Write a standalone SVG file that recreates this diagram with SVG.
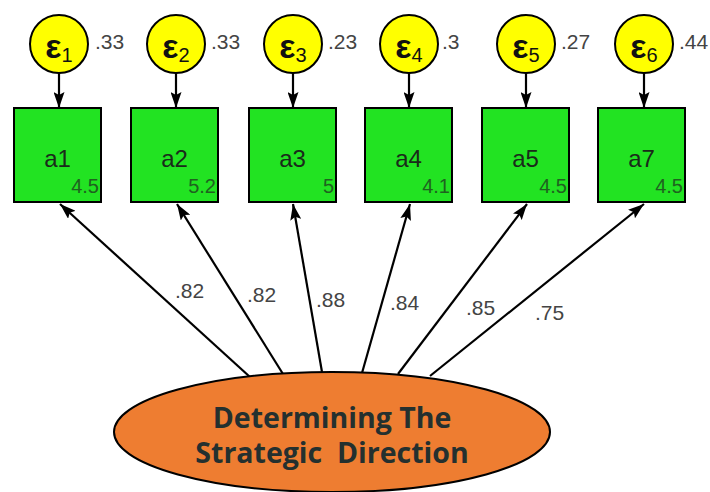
<svg xmlns="http://www.w3.org/2000/svg" width="710" height="492" viewBox="0 0 710 492">
  <defs>
    <marker id="arrow" viewBox="0 0 16 11" refX="16" refY="5.5" markerWidth="16" markerHeight="11" markerUnits="userSpaceOnUse" orient="auto">
      <path d="M0,0 L16,5.5 L0,11 L3,5.5 z" fill="#000"/>
    </marker>
    <style>
      .err circle { fill: #ffff00; stroke: #000; stroke-width: 2; }
      .eps { font-family: "Liberation Sans", Arial, sans-serif; font-weight: bold; font-size: 34px; fill: #111; text-anchor: middle; }
      .eps tspan { font-weight: normal; font-size: 20px; }
      .var { font-family: "Liberation Sans", Arial, sans-serif; font-size: 21px; fill: #444; }
      .obs rect { fill: #22e322; stroke: #000; stroke-width: 2; }
      .name { font-family: "Liberation Sans", Arial, sans-serif; font-size: 24px; fill: #1a2a1a; text-anchor: middle; }
      .mean { font-family: "Liberation Sans", Arial, sans-serif; font-size: 20px; fill: #1f621f; text-anchor: end; }
      .edge { stroke: #000; stroke-width: 2.2; fill: none; marker-end: url(#arrow); }
      .load { font-family: "Liberation Sans", Arial, sans-serif; font-size: 21px; fill: #444; }
      .latent ellipse { fill: #ee7d31; stroke: #000; stroke-width: 2; }
      .lname { font-family: "Open Sans", "Noto Sans", sans-serif; font-weight: bold; font-size: 28.5px; fill: #24302f; text-anchor: middle; }
    </style>
  </defs>

  <rect width="710" height="492" fill="#fff"/>

  <!-- connectors -->
  <g id="connectors">
    <!-- error terms to indicators -->
    <line class="edge" x1="59" y1="73" x2="59" y2="108"/>
    <line class="edge" x1="176" y1="73" x2="176" y2="108"/>
    <line class="edge" x1="293" y1="73" x2="293" y2="108"/>
    <line class="edge" x1="409" y1="73" x2="409" y2="108"/>
    <line class="edge" x1="526" y1="73" x2="526" y2="108"/>
    <line class="edge" x1="644" y1="73" x2="644" y2="108"/>
    <!-- factor loadings -->
    <line class="edge" x1="250" y1="377" x2="60" y2="204"/>
    <line class="edge" x1="283" y1="374" x2="177" y2="204"/>
    <line class="edge" x1="322" y1="372" x2="293" y2="204"/>
    <line class="edge" x1="362" y1="373" x2="410" y2="204"/>
    <line class="edge" x1="398" y1="374" x2="527" y2="204"/>
    <line class="edge" x1="430" y1="376" x2="644" y2="204"/>
    <text class="load" x="175" y="298">.82</text>
    <text class="load" x="247" y="302">.82</text>
    <text class="load" x="316" y="307">.88</text>
    <text class="load" x="390" y="310">.84</text>
    <text class="load" x="466" y="315">.85</text>
    <text class="load" x="535" y="320">.75</text>
  </g>

  <!-- error terms -->
  <g id="e1" class="err"><circle cx="59" cy="44" r="29"/><text class="eps" x="59" y="58">ε<tspan dy="4">1</tspan></text><text class="var" x="95" y="49">.33</text></g>
  <g id="e2" class="err"><circle cx="176" cy="44" r="29"/><text class="eps" x="176" y="58">ε<tspan dy="4">2</tspan></text><text class="var" x="211" y="49">.33</text></g>
  <g id="e3" class="err"><circle cx="293" cy="44" r="29"/><text class="eps" x="293" y="58">ε<tspan dy="4">3</tspan></text><text class="var" x="328" y="49">.23</text></g>
  <g id="e4" class="err"><circle cx="409" cy="44" r="29"/><text class="eps" x="409" y="58">ε<tspan dy="4">4</tspan></text><text class="var" x="442" y="49">.3</text></g>
  <g id="e5" class="err"><circle cx="526" cy="44" r="29"/><text class="eps" x="526" y="58">ε<tspan dy="4">5</tspan></text><text class="var" x="561" y="49">.27</text></g>
  <g id="e6" class="err"><circle cx="644" cy="44" r="29"/><text class="eps" x="644" y="58">ε<tspan dy="4">6</tspan></text><text class="var" x="679" y="49">.44</text></g>

  <!-- observed indicators -->
  <g id="a1" class="obs"><rect x="14" y="108" width="87" height="94"/><text class="name" x="57.5" y="167">a1</text><text class="mean" x="99" y="193">4.5</text></g>
  <g id="a2" class="obs"><rect x="131" y="108" width="87" height="94"/><text class="name" x="174.5" y="167">a2</text><text class="mean" x="216" y="193">5.2</text></g>
  <g id="a3" class="obs"><rect x="249" y="108" width="87" height="94"/><text class="name" x="292.5" y="167">a3</text><text class="mean" x="334" y="193">5</text></g>
  <g id="a4" class="obs"><rect x="365" y="108" width="87" height="94"/><text class="name" x="408.5" y="167">a4</text><text class="mean" x="450" y="193">4.1</text></g>
  <g id="a5" class="obs"><rect x="482" y="108" width="87" height="94"/><text class="name" x="525.5" y="167">a5</text><text class="mean" x="567" y="193">4.5</text></g>
  <g id="a7" class="obs"><rect x="598" y="108" width="87" height="94"/><text class="name" x="641.5" y="167">a7</text><text class="mean" x="683" y="193">4.5</text></g>

  <!-- latent factor -->
  <g id="factor" class="latent">
    <ellipse cx="332" cy="432" rx="218" ry="60"/>
    <text class="lname" x="332" y="428">Determining The</text>
    <text class="lname" x="332" y="463" xml:space="preserve">Strategic  Direction</text>
  </g>
</svg>
